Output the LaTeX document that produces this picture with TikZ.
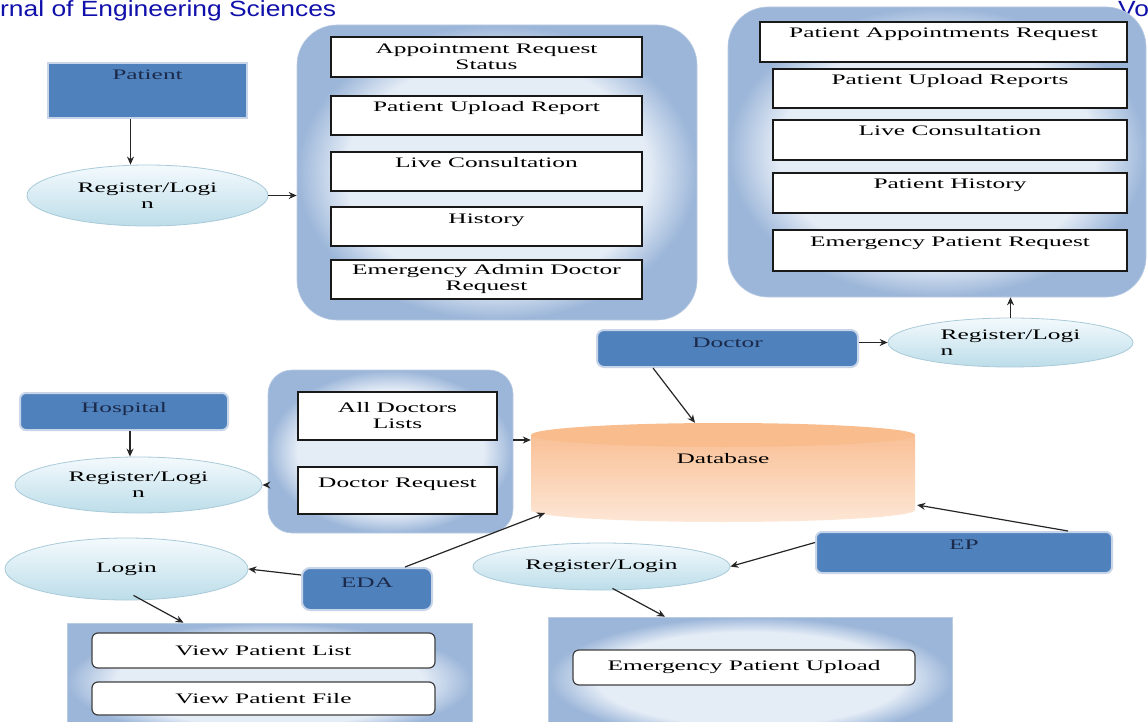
\documentclass[tikz,border=0pt]{standalone}
\usepackage{fontspec}
\setmainfont{Liberation Serif}
\newfontfamily\figfont[FakeStretch=1.75]{Liberation Serif}
\newfontfamily\hdrfont[FakeStretch=1.2]{Liberation Sans}
\usetikzlibrary{arrows.meta,shapes.geometric}
\definecolor{boxblue}{HTML}{4F81BD}
\definecolor{boxedge}{HTML}{C8D5E8}
\definecolor{boxtext}{HTML}{1B2A4A}
\definecolor{panelin}{HTML}{E4ECF6}
\definecolor{panelout}{HTML}{9CB6D9}
\definecolor{ellin}{HTML}{F4FAFD}
\definecolor{ellout}{HTML}{BCDDE9}
\definecolor{ellline}{HTML}{A9CAD8}
\definecolor{dbtop}{HTML}{F9C096}
\definecolor{dblight}{HTML}{FDE7D6}
\definecolor{dbcap}{HTML}{F8BC8D}
\definecolor{hdrblue}{RGB}{16,16,170}
\pgfdeclareradialshading{panelshade}{\pgfpoint{0bp}{0bp}}{color(0bp)=(panelin); color(19bp)=(panelin); color(25bp)=(panelout); color(50bp)=(panelout)}
\tikzset{
  figtext/.style={font=\figfont\fontsize{14.5}{16}\selectfont},
  panel/.style={shade, shading=panelshade, draw=panelout!70!white, line width=0.6pt, inner sep=0pt},
  wbox/.style={figtext, draw=black!90, line width=1.5pt, fill=white, inner xsep=2pt, inner ysep=0pt, align=center, text=black},
  wboxtop/.style={wbox, text height=16pt},
  rbox/.style={figtext, draw=black!75, line width=1.2pt, fill=white, rounded corners=6pt, inner ysep=0pt, text=black},
  bbox/.style={figtext, fill=boxblue, draw=boxedge, line width=2pt, text=boxtext, inner ysep=0pt, text height=17pt},
  ell/.style={ellipse, figtext, top color=ellin, bottom color=ellout, draw=ellline, line width=0.8pt, inner sep=0pt, align=center, text=black},
  arr/.style={-{Stealth[length=8pt,width=7pt]}, line width=1.2pt, draw=black!85},
  hdr/.style={anchor=base west, inner sep=0pt, font=\hdrfont\fontsize{22}{22}\selectfont, text=hdrblue}
}
\begin{document}
\begin{tikzpicture}[x=1pt,y=-1pt]
\useasboundingbox (0,0) rectangle (1148,722);
\fill[white] (0,0) rectangle (1148,722);

% header
\node[hdr] (journal) at (0,17) {rnal of Engineering Sciences};
\node[hdr] (vol) at (1118,17) {Vo};

% panels
\node[panel, rounded corners=40pt, minimum width=400pt, minimum height=295pt] (p1) at (497,172.5) {};
\node[panel, rounded corners=40pt, minimum width=418pt, minimum height=290pt] (p2) at (937,152) {};
\node[panel, rounded corners=24pt, minimum width=245pt, minimum height=163pt] (p3) at (390.5,451.5) {};
\node[panel, minimum width=405pt, minimum height=117pt] (p4) at (269.5,681.5) {};
\node[panel, minimum width=404pt, minimum height=123pt] (p5) at (750,678.5) {};

% patient panel boxes
\node[wbox, minimum width=311pt, minimum height=40pt] (a1) at (486.5,57) {Appointment Request\\Status};
\node[wboxtop, minimum width=311pt, minimum height=39pt, text depth=23pt] (a2) at (486.5,115.5) {Patient Upload Report};
\node[wboxtop, minimum width=311pt, minimum height=39pt, text depth=23pt] (a3) at (486.5,171.5) {Live Consultation};
\node[wboxtop, minimum width=311pt, minimum height=39pt, text depth=23pt] (a4) at (486.5,226.5) {History};
\node[wbox, minimum width=311pt, minimum height=39pt] (a5) at (486.5,279.5) {Emergency Admin Doctor\\Request};

% doctor panel boxes
\node[wboxtop, minimum width=367pt, minimum height=40pt, text depth=24pt] (d1) at (943.5,42) {Patient Appointments Request};
\node[wboxtop, minimum width=354pt, minimum height=39pt, text depth=23pt] (d2) at (950,88.5) {Patient Upload Reports};
\node[wboxtop, minimum width=354pt, minimum height=40pt, text depth=24pt] (d3) at (950,140) {Live Consultation};
\node[wboxtop, minimum width=354pt, minimum height=40pt, text depth=24pt] (d4) at (950,193) {Patient History};
\node[wboxtop, minimum width=354pt, minimum height=41pt, text depth=25pt] (d5) at (950,250.5) {Emergency Patient Request};

% hospital panel boxes
\node[wbox, minimum width=199pt, minimum height=48pt] (h1) at (397.5,416) {All Doctors\\Lists};
\node[wbox, text height=20pt, text depth=27pt, minimum width=199pt, minimum height=47pt] (h2) at (397.5,490.5) {Doctor Request};

% bottom panel boxes
\node[rbox, minimum width=343pt, minimum height=35pt] (e1) at (263.5,650.5) {View Patient List};
\node[rbox, minimum width=343pt, minimum height=33pt] (e2) at (263.5,698.5) {View Patient File};
\node[rbox, minimum width=342pt, minimum height=35pt] (f1) at (744,667.5) {Emergency Patient Upload};

% blue actor boxes
\node[bbox, minimum width=199pt, minimum height=55pt, text depth=38pt] (pat) at (147.5,90.5) {Patient};
\node[bbox, rounded corners=7pt, minimum width=261pt, minimum height=37pt, text depth=20pt] (doc) at (727.5,348.5) {Doctor};
\node[bbox, rounded corners=6pt, text height=19pt, minimum width=208pt, minimum height=37pt, text depth=18pt] (hos) at (124,411.5) {Hospital};
\node[bbox, rounded corners=8pt, text height=19pt, minimum width=130pt, minimum height=42pt, text depth=23pt] (eda) at (367,589) {EDA};
\node[bbox, rounded corners=6pt, minimum width=296pt, minimum height=41pt, text depth=24pt] (ep) at (964,552.5) {EP};

% ellipses
\node[ell, minimum width=241pt, minimum height=61pt] (pel) at (147.5,195.5) {Register/Logi\\n};
\node[ell, align=left, minimum width=245pt, minimum height=49pt] (del) at (1010.5,342.5) {Register/Logi\\n};
\node[ell, minimum width=247pt, minimum height=56pt] (hel) at (138.5,485) {Register/Logi\\n};
\node[ell, minimum width=243pt, minimum height=62pt] (lel) at (126.5,569) {Login};
\node[ell, minimum width=257pt, minimum height=47pt] (mel) at (601.5,566.5) {Register/Login};

% database
\node[minimum width=384pt, minimum height=99pt, inner sep=0pt] (db) at (723,472.5) {};
\shade[top color=dbtop, bottom color=dblight] (531,435) -- (531,510) arc[start angle=180,end angle=360,x radius=192pt,y radius=12pt] -- (915,435) -- cycle;
\fill[dbcap] (723,435) ellipse[x radius=192pt, y radius=12pt];
\node[figtext] (dblabel) at (723,459) {Database};

% connectors
\draw[arr] ([xshift=-17pt]pat.south) -- ([xshift=-17pt]pat.south |- pel.north);
\draw[arr] (pel.east) -- (pel.east -| p1.west);
\draw[arr] (del.west -| doc.east) -- (del.west);
\draw[arr] (del.north) -- (del.north |- p2.south);
\draw[arr] ([xshift=-74.5pt]doc.south) -- ([xshift=-28pt]db.north);
\draw[arr] ([xshift=6pt]hos.south) -- ([xshift=6pt]hos.south |- hel.north);
\draw[arr] (p3.west |- hel.east) -- (hel.east);
\draw[arr] ([yshift=32.5pt]db.west -| p3.east) -- ([yshift=32.5pt]db.west);
\draw[arr] ([yshift=14pt]eda.west) -- (lel.east);
\draw[arr] ([xshift=38pt]eda.north) -- ([xshift=-178pt,yshift=-40.5pt]db.center);
\draw[arr] ([xshift=104pt]ep.north) -- ([xshift=2pt,yshift=-32.5pt]db.east);
\draw[arr] ([yshift=10pt]ep.west) -- (mel.east);
\draw[arr] ([xshift=7pt,yshift=5pt]lel.south) -- ([xshift=-86pt]p4.north);
\draw[arr] ([xshift=11pt,yshift=2pt]mel.south) -- ([xshift=-85pt]p5.north);
\end{tikzpicture}
\end{document}
